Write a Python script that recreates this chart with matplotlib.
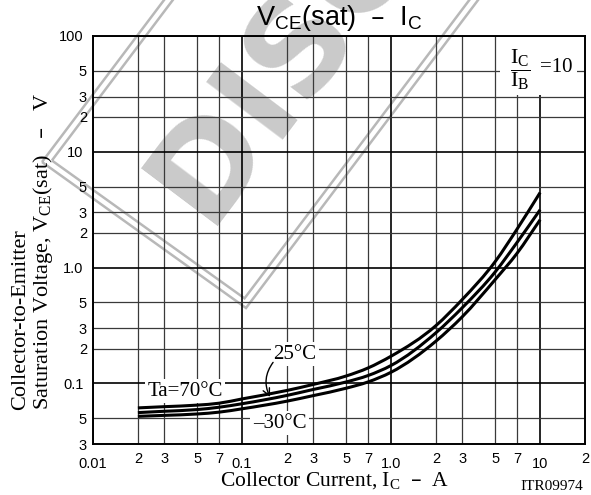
import matplotlib
matplotlib.use('Agg')
import matplotlib.pyplot as plt
from matplotlib.ticker import FixedLocator, FixedFormatter
from matplotlib.patches import Polygon, Rectangle, PathPatch
from matplotlib.path import Path
from matplotlib.transforms import Affine2D
import numpy as np

# ---------------- data ----------------
ic = [0.02, 0.03, 0.05, 0.07, 0.1, 0.2, 0.3, 0.5, 0.7, 1.0, 2.0, 3.0, 5.0, 7.0, 10.0]
vce_70 = [0.0615, 0.063, 0.065, 0.0675, 0.0735, 0.087, 0.098, 0.116, 0.136, 0.172, 0.316, 0.53, 1.13, 2.15, 4.45]
vce_25 = [0.056, 0.0575, 0.0595, 0.0623, 0.0668, 0.0788, 0.0887, 0.103, 0.117, 0.143, 0.274, 0.45, 0.92, 1.65, 3.16]
vce_m30 = [0.052, 0.053, 0.0545, 0.0565, 0.0604, 0.0703, 0.0785, 0.091, 0.103, 0.125, 0.232, 0.376, 0.79, 1.33, 2.59]

x_major = [0.01, 0.1, 1.0, 10.0]
x_major_labels = ['0.01', '0.1', '1.0', '10']
x_minor = [0.02, 0.03, 0.05, 0.07, 0.2, 0.3, 0.5, 0.7, 2, 3, 5, 7, 20]
x_minor_labels = ['2', '3', '5', '7'] * 3 + ['2']
y_major = [0.1, 1.0, 10, 100]
y_major_labels = ['0.1', '1.0', '10', '100']
y_minor = [0.03, 0.05, 0.2, 0.3, 0.5, 2, 3, 5, 20, 30, 50]
y_minor_labels = ['3', '5', '2', '3', '5', '2', '3', '5', '2', '3', '5']

W, H = 591, 495
fig = plt.figure(figsize=(W / 100, H / 100), dpi=100)
px = Affine2D().scale(1 / W, -1 / H).translate(0, 1) + fig.transFigure

SANS = 'Liberation Sans'
SERIF = 'Liberation Serif'

# ---------------- watermark ----------------
A = np.array([42.0, 162.0])
B = np.array([246.0, 308.0])
u = np.array([np.cos(np.radians(53)), -np.sin(np.radians(53))])
L = 800
ab = (B - A) / np.linalg.norm(B - A)
for inset in (0, 7):
    a = A + inset * ab + inset * u
    b = B - inset * ab + inset * u
    poly = Polygon([a, b, b + L * u, a + L * u], closed=True, fill=False,
                   edgecolor='#b8b8b8', lw=1.8, transform=px, zorder=-5)
    fig.add_artist(poly)
fig.text(206, 226, 'DISCONTINUED', transform=px, rotation=53, rotation_mode='anchor',
         ha='left', va='baseline', fontsize=94, fontweight='bold', family='DejaVu Sans',
         color='#cacaca', zorder=-5, clip_on=True)

# ---------------- axes ----------------
ax = fig.add_axes([93 / W, 1 - 444 / H, (585 - 93) / W, (444 - 36) / H])
ax.patch.set_visible(False)
ax.set_xscale('log')
ax.set_yscale('log')
ax.set_xlim(0.01, 20)
ax.set_ylim(0.03, 100)

ax.xaxis.set_major_locator(FixedLocator(x_major))
ax.xaxis.set_major_formatter(FixedFormatter(x_major_labels))
ax.xaxis.set_minor_locator(FixedLocator(x_minor))
ax.xaxis.set_minor_formatter(FixedFormatter(x_minor_labels))
ax.yaxis.set_major_locator(FixedLocator(y_major))
ax.yaxis.set_major_formatter(FixedFormatter(y_major_labels))
ax.yaxis.set_minor_locator(FixedLocator(y_minor))
ax.yaxis.set_minor_formatter(FixedFormatter(y_minor_labels))

ax.set_axisbelow(True)
ax.grid(which='major', color='black', lw=1.2)
ax.grid(which='minor', color='#3a3a3a', lw=0.9)
for s in ax.spines.values():
    s.set_linewidth(1.4)
    s.set_color('black')

ax.tick_params(which='both', length=0, labelsize=10.5)
ax.tick_params(axis='x', which='major', pad=9.5)
ax.tick_params(axis='x', which='minor', pad=5.5)
ax.tick_params(axis='y', which='major', pad=7)
ax.tick_params(axis='y', which='minor', pad=4.3)
for lab in ax.get_xticklabels(which='both') + ax.get_yticklabels(which='both'):
    lab.set_family(SANS)


def smooth_path(xs, ys):
    """Cubic Hermite (Bezier) path through the points, built in log-log space."""
    X = np.log10(np.asarray(xs, float))
    Y = np.log10(np.asarray(ys, float))
    h = np.diff(X)
    d = np.diff(Y) / h
    n = len(X)
    m = np.empty(n)
    m[0], m[-1] = d[0], d[-1]
    for i in range(1, n - 1):
        m[i] = (d[i - 1] * h[i] + d[i] * h[i - 1]) / (h[i - 1] + h[i])
    verts = [(X[0], Y[0])]
    codes = [Path.MOVETO]
    for i in range(n - 1):
        verts += [(X[i] + h[i] / 3, Y[i] + m[i] * h[i] / 3),
                  (X[i + 1] - h[i] / 3, Y[i + 1] - m[i + 1] * h[i] / 3),
                  (X[i + 1], Y[i + 1])]
        codes += [Path.CURVE4] * 3
    return Path(10 ** np.array(verts), codes)


for v in (vce_70, vce_25, vce_m30):
    ax.add_patch(PathPatch(smooth_path(ic, v), fill=False, edgecolor='black', lw=2.2,
                           zorder=4, transform=ax.transData))

# annotations
bb = dict(boxstyle='square,pad=0.12', fc='white', ec='none')
ax.text(0.0414, 0.0853, 'Ta=70°C', family=SERIF, fontsize=15, ha='center', va='center',
        bbox=bb, zorder=3)
ax.text(0.227, 0.178, '25°C', family=SERIF, fontsize=15, ha='center', va='center',
        bbox=bb, zorder=3)
ax.text(0.1785, 0.0452, '–30°C', family=SERIF, fontsize=15, ha='center', va='center',
        bbox=bb, zorder=3)
ax.annotate('', xy=(0.154, 0.0765), xytext=(0.1615, 0.152),
            arrowprops=dict(arrowstyle='->,head_length=0.5,head_width=0.25', lw=1.0,
                            color='black', connectionstyle='arc3,rad=0.3',
                            shrinkA=0, shrinkB=0), zorder=5)

# IC/IB = 10 box
ax.add_patch(Rectangle(((500 - 93) / 492, (444 - 95) / 408), 77 / 492, (95 - 37) / 408,
                       transform=ax.transAxes, fc='white', ec='none', zorder=1))
fig.text(520, 70, r'$\dfrac{\mathregular{I_C}}{\mathregular{I_B}}$', transform=px,
         family=SERIF, math_fontfamily='stix', fontsize=16, ha='center', va='center')
fig.text(540, 68, '=10', transform=px, family=SERIF, fontsize=15, ha='left', va='center')

# titles and labels
fig.text(339, 25, r'V$\mathregular{_{CE}}$(sat)  –  I$\mathregular{_C}$', transform=px,
         family=SANS, fontsize=19.5, ha='center', va='baseline')
fig.text(335, 486, r'Collector Current, I$\mathregular{_C}$  –  A', transform=px,
         family=SERIF, fontsize=15.5, ha='center', va='baseline')
fig.text(25, 410, 'Collector-to-Emitter', transform=px, family=SERIF, fontsize=16,
         rotation=90, rotation_mode='anchor', ha='left', va='baseline')
fig.text(48, 410, r'Saturation Voltage, V$\mathregular{_{CE}}$(sat)   –   V', transform=px,
         family=SERIF, fontsize=16, rotation=90, rotation_mode='anchor',
         ha='left', va='baseline')
fig.text(583, 490, 'ITR09974', transform=px, family=SERIF, fontsize=11,
         ha='right', va='baseline')

fig.savefig('out.png', dpi=100)
